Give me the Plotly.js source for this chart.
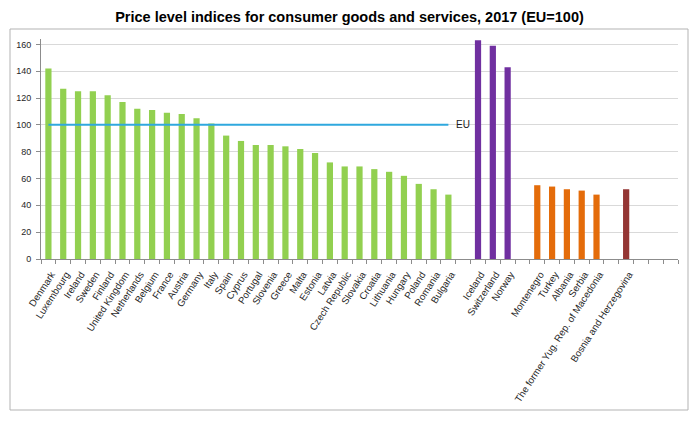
<!DOCTYPE html>
<html>
<head>
<meta charset="utf-8">
<script src="https://cdn.plot.ly/plotly-3.0.1.min.js"></script>
<style>html,body{margin:0;padding:0;background:#fff;}#chart{width:699px;height:434px;}</style>
</head>
<body>
<div id="chart"></div>
<script>
// EU Member States
const euCountries = ["Denmark","Luxembourg","Ireland","Sweden","Finland","United Kingdom","Netherlands","Belgium","France","Austria","Germany","Italy","Spain","Cyprus","Portugal","Slovenia","Greece","Malta","Estonia","Latvia","Czech Republic","Slovakia","Croatia","Lithuania","Hungary","Poland","Romania","Bulgaria"];
const euValues = [142,127,125,125,122,117,112,111,109,108,105,101,92,88,85,85,84,82,79,72,69,69,67,65,62,56,52,48];
// EFTA
const eftaCountries = ["Iceland","Switzerland","Norway"];
const eftaValues = [163,159,143];
// Candidate countries
const candCountries = ["Montenegro","Turkey","Albania","Serbia","The former Yug. Rep. of Macedonia"];
const candValues = [55,54,52,51,48];
// Potential candidates
const potCountries = ["Bosnia and Herzegovina"];
const potValues = [52];
// EU average reference
const euLevel = 100;
const yTicks = [0,20,40,60,80,100,120,140,160];

// blank category slots separating the groups
const gapA = [" "], gapB = ["  "], gapC = ["   "], gapEnd = ["    ","     ","      "];
const categoryOrder = [].concat(euCountries, gapA, eftaCountries, gapB, candCountries, gapC, potCountries, gapEnd);

function barTrace(x, y, color) {
  return {type: "bar", x: x, y: y, marker: {color: color}, hoverinfo: "x+y", showlegend: false, cliponaxis: true};
}

const traces = [
  barTrace(euCountries, euValues, "#92D050"),
  barTrace(eftaCountries, eftaValues, "#7030A0"),
  barTrace(candCountries, candValues, "#E46C0A"),
  barTrace(potCountries, potValues, "#943634"),
  {
    type: "scatter", mode: "lines",
    x: [euCountries[0], euCountries[euCountries.length - 1]],
    y: [euLevel, euLevel],
    line: {color: "#2FA8DE", width: 2},
    showlegend: false, cliponaxis: false
  }
];

const fontFam = "Liberation Sans, Arial, sans-serif";
const layout = {
  width: 699, height: 434,
  margin: {l: 41, r: 21, t: 39, b: 175},
  paper_bgcolor: "#ffffff", plot_bgcolor: "#ffffff",
  barmode: "overlay", bargap: 0.58,
  title: {
    text: "<b>Price level indices for consumer goods and services, 2017 (EU=100)</b>",
    font: {family: fontFam, size: 14.5, color: "#000"},
    x: 0.5, xref: "container", xanchor: "center",
    y: 1 - 17/434, yref: "container", yanchor: "middle"
  },
  xaxis: {
    type: "category", categoryorder: "array", categoryarray: categoryOrder,
    range: [-0.5, categoryOrder.length - 0.5],
    tickson: "boundaries", ticks: "outside", ticklen: 4, tickcolor: "#8c8c8c",
    showline: true, linecolor: "#8c8c8c", linewidth: 1,
    showgrid: false, tickangle: -57, ticklabelstandoff: 5, ticklabelshift: 3,
    tickfont: {family: fontFam, size: 9.7, color: "#262626"},
    fixedrange: true
  },
  yaxis: {
    range: [0, 164], tickvals: yTicks, ticktext: yTicks.map(String),
    ticks: "outside", ticklen: 4, tickcolor: "#8c8c8c",
    showline: true, linecolor: "#8c8c8c", linewidth: 1,
    showgrid: true, gridcolor: "#d9d9d9", gridwidth: 1,
    zeroline: false, ticklabelstandoff: 3,
    tickfont: {family: fontFam, size: 9, color: "#262626"},
    fixedrange: true
  },
  annotations: [{
    x: euCountries[euCountries.length - 1], y: euLevel, xref: "x", yref: "y",
    text: "EU", showarrow: false, xanchor: "left", yanchor: "middle", xshift: 6,
    font: {family: fontFam, size: 10, color: "#1a1a1a"}
  }],
  shapes: [{
    type: "rect", xref: "paper", yref: "paper",
    x0: (10 - 41) / 637, x1: (688 - 41) / 637,
    y0: (259 - 410) / 220, y1: (259 - 29) / 220,
    line: {color: "#b3b3b3", width: 1}, fillcolor: "rgba(0,0,0,0)", layer: "below"
  }]
};

Plotly.newPlot("chart", traces, layout, {displayModeBar: false, staticPlot: true});
</script>
</body>
</html>
